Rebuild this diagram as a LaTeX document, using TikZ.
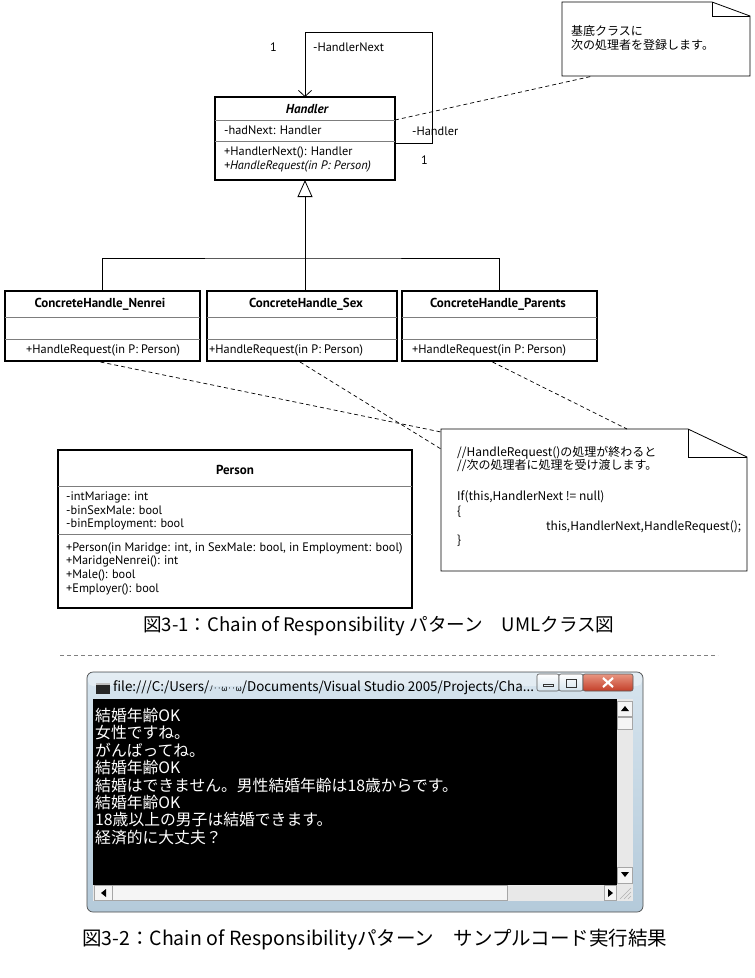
\documentclass[tikz,border=0pt]{standalone}
\usepackage{fontspec}
\setmainfont{PT Sans}
\newfontfamily\jp{Noto Sans CJK JP}
\usetikzlibrary{arrows.meta,calc}
\definecolor{divgray}{RGB}{125,125,125}
\definecolor{frametop}{RGB}{214,228,238}
\definecolor{framebot}{RGB}{180,202,218}
\definecolor{closetop}{RGB}{232,150,130}
\definecolor{closebot}{RGB}{196,62,40}
\definecolor{sbtrack}{RGB}{232,232,232}
\definecolor{sbbtn}{RGB}{245,245,245}
\newcommand\umlfs{\fontsize{12.3}{13.5}\selectfont}
\newcommand\umlbfs{\fontsize{13}{14}\selectfont}
\newcommand\notefs{\fontsize{12}{13.5}\selectfont}
\newcommand\capfs{\fontsize{19.5}{22}\selectfont}
\newcommand\capafs{\fontsize{18.6}{22}\selectfont}
\newcommand\confs{\fontsize{15.8}{17}\selectfont}
\newcommand\ttlfs{\fontsize{13.4}{14}\selectfont}
\begin{document}
\begin{tikzpicture}[x=1pt,y=-1pt,
 classbox/.style={draw=black, line width=1.8pt, inner sep=0pt, outer sep=0pt, anchor=north west},
 divider/.style={draw=divgray, line width=0.9pt},
 umltxt/.style={font=\umlfs, inner sep=0pt, anchor=west},
 umltitle/.style={font=\umlbfs\bfseries, inner sep=0pt},
 notebox/.style={inner sep=0pt, outer sep=0pt, anchor=north west},
 noteline/.style={draw=black, line width=0.8pt, fill=white},
 notetxt/.style={font=\jp\notefs, inner sep=0pt, anchor=west},
 assoc/.style={draw=black, line width=0.8pt},
 dashc/.style={draw=black, line width=0.7pt, dash pattern=on 4pt off 3pt},
 captxt/.style={font=\jp\capfs, inner sep=0pt, anchor=west},
 contxt/.style={font=\jp\confs, text=white, inner sep=0pt, anchor=west},
 btnbox/.style={draw=gray!70!black, line width=0.6pt, rounded corners=2pt},
]
\useasboundingbox (0,0) rectangle (755,978);
\fill[white] (0,0) rectangle (755,978);

% ---------- Notes ----------
\node[notebox, minimum width=188pt, minimum height=74pt] (note1) at (562,2) {};
\draw[noteline] (note1.north west) -- ($(note1.north east)+(-38,0)$) -- ($(note1.north east)+(0,14)$) -- (note1.south east) -- (note1.south west) -- cycle;
\draw[noteline, fill=none] ($(note1.north east)+(-38,0)$) -- ($(note1.north east)+(-38,14)$) -- ($(note1.north east)+(0,14)$);
\node[notetxt] (n1a) at (571,31) {基底クラスに};
\node[notetxt] (n1b) at (571,45) {次の処理者を登録します。};

\node[notebox, minimum width=306pt, minimum height=142pt] (note2) at (441,429) {};
\draw[noteline] (note2.north west) -- ($(note2.north east)+(-59,0)$) -- ($(note2.north east)+(0,28)$) -- (note2.south east) -- (note2.south west) -- cycle;
\draw[noteline, fill=none] ($(note2.north east)+(-59,0)$) -- ($(note2.north east)+(-59,28)$) -- ($(note2.north east)+(0,28)$);
\node[notetxt] (n2a) at (457,453) {//HandleRequest()の処理が終わると};
\node[notetxt] (n2b) at (457,466) {//次の処理者に処理を受け渡します。};
\node[notetxt] (n2c) at (457,497) {If(this,HandlerNext != null)};
\node[notetxt] (n2d) at (457,512) {\{};
\node[notetxt] (n2e) at (546,527) {this,HandlerNext,HandleRequest();};
\node[notetxt] (n2f) at (457,541) {\}};

% ---------- Handler ----------
\node[classbox, minimum width=180pt, minimum height=83pt] (handler) at (215,97) {};
\draw[divider] (handler.west |- 0,120) -- (handler.east |- 0,120);
\draw[divider] (handler.west |- 0,141) -- (handler.east |- 0,141);
\node[umltitle, font=\umlbfs\bfseries\itshape] (hT) at (307,109) {Handler};
\node[umltxt] (hA) at (224,130) {-hadNext: Handler};
\node[umltxt] (hM1) at (224,152) {+HandlerNext(): Handler};
\node[umltxt, font=\umlfs\itshape] (hM2) at (224,166) {+HandleRequest(in P: Person)};

% self association
\coordinate (loopTR) at (432,32);
\draw[assoc, -{Straight Barb[length=6pt, width=13pt]}] (handler.east |- 0,143) -| (loopTR) -| (handler.north);
\node[umltxt] (m1) at (270,47) {1};
\node[umltxt] (r1) at (313,47) {-HandlerNext};
\node[umltxt] (r2) at (412,131) {-Handler};
\node[umltxt] (m2) at (421,160) {1};

% note1 link
\coordinate (n1link) at (593,76);
\draw[dashc] (handler.east |- 0,120) -- (n1link);

% ---------- Concrete classes ----------
\node[classbox, minimum width=195pt, minimum height=70pt] (nenrei) at (5,291) {};
\node[classbox, minimum width=190pt, minimum height=70pt] (sex) at (207,291) {};
\node[classbox, minimum width=195pt, minimum height=70pt] (parents) at (402,291) {};
\foreach \c in {nenrei,sex,parents}{
  \draw[divider] (\c.west |- 0,317) -- (\c.east |- 0,317);
  \draw[divider] (\c.west |- 0,339) -- (\c.east |- 0,339);
}
\node[umltitle] (nT) at (100,304) {ConcreteHandle\_Nenrei};
\node[umltitle] (sT) at (306,304) {ConcreteHandle\_Sex};
\node[umltitle] (pT) at (498,304) {ConcreteHandle\_Parents};
\node[umltxt] (nM) at (26,350) {+HandleRequest(in P: Person)};
\node[umltxt] (sM) at (209,350) {+HandleRequest(in P: Person)};
\node[umltxt] (pM) at (412,350) {+HandleRequest(in P: Person)};

% generalization
\coordinate (junc) at (305,258);
\draw[assoc] (nenrei.north) |- (junc) -| (parents.north);
\draw[assoc, -{Triangle[open, fill=white, length=17pt, width=15pt]}] (junc |- sex.north) -- (handler.south);

% links to note2
\draw[dashc] ($(nenrei.south)+(-2,1)$) -- (note2.west |- 0,432);
\draw[dashc] ($(sex.south)+(-2,1)$) -- (note2.west |- 0,449);
\draw[dashc] ($(parents.south)+(-7,1)$) -- ($(note2.north west)+(186,0)$);

% ---------- Person ----------
\node[classbox, minimum width=354pt, minimum height=158pt] (person) at (58,450) {};
\draw[divider] (person.west |- 0,486) -- (person.east |- 0,486);
\draw[divider] (person.west |- 0,534) -- (person.east |- 0,534);
\node[umltitle] (pT2) at (235,470) {Person};
\node[umltxt] (pa1) at (66,497) {-intMariage: int};
\node[umltxt] (pa2) at (66,510) {-binSexMale: bool};
\node[umltxt] (pa3) at (66,524) {-binEmployment: bool};
\node[umltxt] (pm1) at (66,548) {+Person(in Maridge: int, in SexMale: bool, in Employment: bool)};
\node[umltxt] (pm2) at (66,561) {+MaridgeNenrei(): int};
\node[umltxt] (pm3) at (66,575) {+Male(): bool};
\node[umltxt] (pm4) at (66,589) {+Employer(): bool};

% ---------- Caption 1 & separator ----------
\node[captxt, font=\jp\capafs] (cap1) at (143,626) {図3-1：Chain of Responsibility パターン　UMLクラス図};
\coordinate (sepL) at (60,655);
\coordinate (sepR) at (718,655);
\draw[draw=gray, line width=0.7pt, dash pattern=on 4pt off 3pt] (sepL) -- (sepR);

% ---------- Console window ----------
\shade[top color=frametop, bottom color=framebot, rounded corners=6pt, draw=gray!60!black, line width=0.7pt] (87,672) rectangle (643,912);
\fill[white, opacity=0.35, rounded corners=5pt] (88,673) rectangle (642,686);
% icon
\fill[black!85] (96,683) rectangle (110,694);
\fill[gray!50] (96,683) rectangle (110,685);
% title text
\node[inner sep=0pt, anchor=west, font=\jp\ttlfs] (wtitle) at (113,688) {file:///C:/Users/{\fontsize{8}{8}\selectfont ﾉ‥ω‥ω}/Documents/Visual Studio 2005/Projects/Cha...};
% buttons
\shade[btnbox, top color=white, bottom color=frametop] (537,674) rectangle (559,691);
\shade[btnbox, top color=white, bottom color=frametop] (559,674) rectangle (583,691);
\shade[btnbox, top color=closetop, bottom color=closebot] (583,674) rectangle (633,691);
\draw[gray!40!black, line width=0.8pt] (543,684) rectangle (553,686);
\draw[gray!40!black, line width=0.8pt] (566,679) rectangle (576,687);
\draw[white, line width=2.2pt] (603,678) -- (613,687) (613,678) -- (603,687);
% console area
\fill[black] (93,699) rectangle (617,885);
% vertical scrollbar
\fill[sbtrack] (617,699) rectangle (633,885);
\draw[gray!70, fill=sbbtn, line width=0.5pt] (617.5,701) rectangle (632.5,716);
\fill[black] (621,711) -- (629,711) -- (625,706) -- cycle;
\draw[gray!70, fill=sbbtn, line width=0.5pt] (617.5,717) rectangle (632.5,729);
\draw[gray!70, fill=sbbtn, line width=0.5pt] (617.5,867) rectangle (632.5,883);
\fill[black] (621,872) -- (629,872) -- (625,877) -- cycle;
% horizontal scrollbar
\fill[sbtrack] (93,885) rectangle (633,901);
\draw[gray!70, fill=sbbtn, line width=0.5pt] (94,885.5) rectangle (112,900.5);
\fill[black] (106,889) -- (106,897) -- (101,893) -- cycle;
\draw[gray!70, fill=sbbtn, line width=0.5pt] (112,885.5) rectangle (507,900.5);
\draw[gray!70, fill=sbbtn, line width=0.5pt] (604,885.5) rectangle (616.5,900.5);
\fill[black] (608,889) -- (608,897) -- (613,893) -- cycle;
\draw[gray!60, line width=0.6pt] (631,888) -- (620,899) (631,892) -- (624,899) (631,896) -- (628,899);
% console text
\node[contxt] (c1) at (95,715) {結婚年齢OK};
\node[contxt] (c2) at (95,732.5) {女性ですね。};
\node[contxt] (c3) at (95,750) {がんばってね。};
\node[contxt] (c4) at (95,767.5) {結婚年齢OK};
\node[contxt] (c5) at (95,785) {結婚はできません。男性結婚年齢は18歳からです。};
\node[contxt] (c6) at (95,802.5) {結婚年齢OK};
\node[contxt] (c7) at (95,820) {18歳以上の男子は結婚できます。};
\node[contxt] (c8) at (95,837.5) {経済的に大丈夫？};

% ---------- Caption 2 ----------
\node[captxt] (cap2) at (82,940) {図3-2：Chain of Responsibilityパターン　サンプルコード実行結果};
\end{tikzpicture}
\end{document}
